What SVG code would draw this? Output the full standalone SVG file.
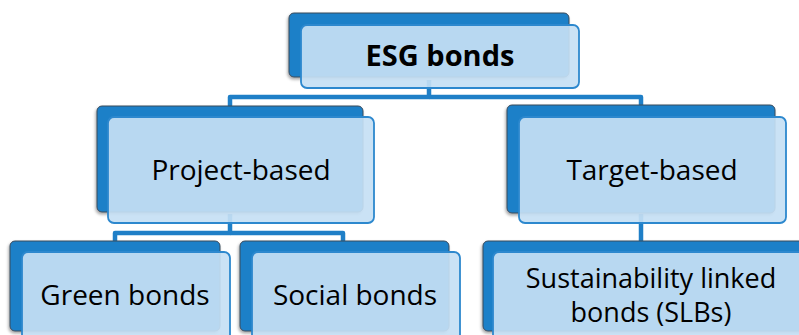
<svg xmlns="http://www.w3.org/2000/svg" width="799" height="335" viewBox="0 0 799 335">
<defs>
<filter id="sh" x="-10%" y="-10%" width="120%" height="130%">
<feDropShadow dx="-1" dy="2" stdDeviation="1.5" flood-color="#000" flood-opacity="0.35"/>
</filter>
<style>
.back{fill:#1F80C8;stroke:#3a4a5a;stroke-width:1;filter:url(#sh)}
.front{fill:#C6E0F4;fill-opacity:0.92;stroke:#2D88CE;stroke-width:1.8}
.conn{fill:none;stroke:#1F7FC7;stroke-width:4.5;stroke-linejoin:round}
.t{font-family:"Open Sans","Liberation Sans",sans-serif;font-size:28px;fill:#000;text-anchor:middle}
.b{font-weight:bold;font-size:29px}
.s{font-size:27px}
</style>
</defs>
<rect width="799" height="335" fill="#fff"/>
<g id="connectors">
<path class="conn" d="M429,80 V97 H230 V108"/>
<path class="conn" d="M429,97 H641 V107"/>
<path class="conn" d="M230,214 V233 H115 V243"/>
<path class="conn" d="M230,233 H343 V243"/>
<path class="conn" d="M641,214 V243"/>
</g>
<g id="esg">
<rect class="back" x="289" y="13" width="280" height="64" rx="5"/>
<rect class="front" x="301" y="25" width="278" height="63" rx="6"/>
<text class="t b" x="440" y="66">ESG bonds</text>
</g>
<g id="project">
<rect class="back" x="97" y="106" width="266" height="106" rx="5"/>
<rect class="front" x="108" y="117" width="266" height="106" rx="6"/>
<text class="t" x="241" y="180">Project-based</text>
</g>
<g id="target">
<rect class="back" x="507" y="105" width="268" height="108" rx="5"/>
<rect class="front" x="519" y="117" width="267" height="106" rx="6"/>
<text class="t" x="652" y="180">Target-based</text>
</g>
<g id="green">
<rect class="back" x="10" y="241" width="210" height="90" rx="5"/>
<rect class="front" x="22" y="252" width="208" height="95" rx="6"/>
<text class="t" x="125" y="305">Green bonds</text>
</g>
<g id="social">
<rect class="back" x="240" y="241" width="209" height="90" rx="5"/>
<rect class="front" x="252" y="252" width="208" height="95" rx="6"/>
<text class="t" x="355" y="305">Social bonds</text>
</g>
<g id="slb">
<rect class="back" x="483" y="241" width="330" height="90" rx="5"/>
<rect class="front" x="493" y="252" width="330" height="95" rx="6"/>
<text class="t s" x="651" y="288">Sustainability linked</text>
<text class="t s" x="651" y="322">bonds (SLBs)</text>
</g>
</svg>
